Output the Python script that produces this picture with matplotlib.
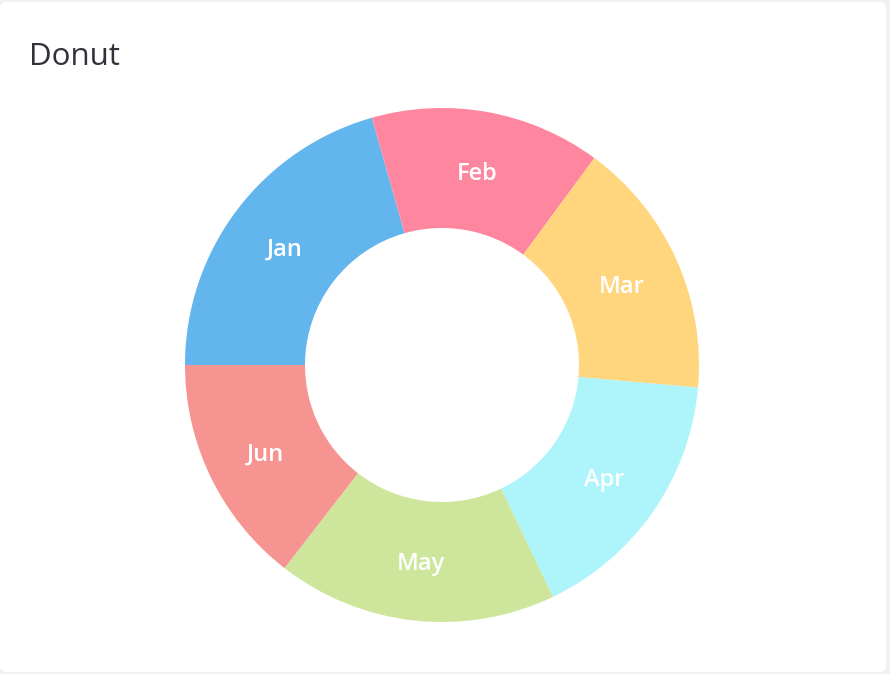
import matplotlib.pyplot as plt
import numpy as np
from matplotlib.patches import FancyBboxPatch

plt.rcParams['font.family'] = ['Open Sans', 'DejaVu Sans']

# data (share of the ring, in %)
months = ['Jan', 'Feb', 'Mar', 'Apr', 'May', 'Jun']
values = [20.6, 14.5, 16.3, 16.5, 17.6, 14.5]
colors = ['#63b5ed', '#ff869f', '#ffd67e', '#aef4fb', '#cde69c', '#f69491']

W, H = 890, 674
fig = plt.figure(figsize=(W / 100, H / 100), dpi=100)
fig.patch.set_facecolor('#eef0f3')

# white card
card = FancyBboxPatch((0 / W, 2 / H), 886 / W, 670 / H,
                      boxstyle='round,pad=0,rounding_size=0.008',
                      transform=fig.transFigure, facecolor='white',
                      edgecolor='none', zorder=-10)
fig.patches.append(card)

fig.text(29 / W, 1 - 57 / H, 'Donut', fontsize=22.5, color='#30343a',
         ha='left', va='center')

cx, cy, R, r_in = 442, 365, 257, 137
ax = fig.add_axes([(cx - R) / W, (H - cy - R) / H, 2 * R / W, 2 * R / H])
ax.set_zorder(5)
ring = (R - r_in) / R
wedges, _ = ax.pie(values, colors=colors, startangle=180, counterclock=False,
                   radius=1, wedgeprops=dict(width=ring, linewidth=0))
ax.set_xlim(-1, 1)
ax.set_ylim(-1, 1)
ax.axis('off')

mid = 1 - ring / 2
dy = 3 / R  # labels sit a little below the ring's mid line
for w, name in zip(wedges, months):
    ang = np.deg2rad((w.theta1 + w.theta2) / 2)
    ax.text(mid * np.cos(ang), mid * np.sin(ang) - dy, name, color='white',
            fontsize=17, fontweight='semibold', ha='center', va='center')

fig.savefig('out.png', dpi=100, facecolor=fig.get_facecolor())
